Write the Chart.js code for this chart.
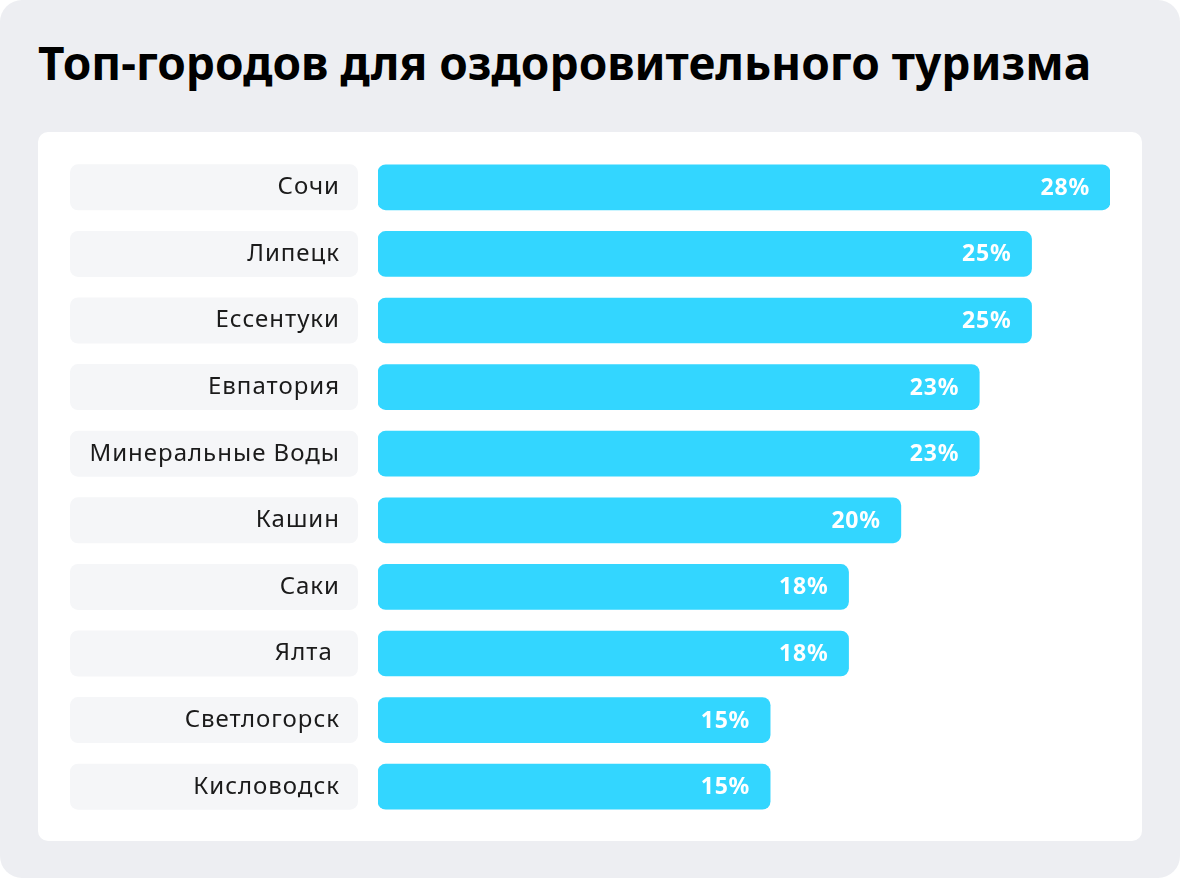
<!DOCTYPE html>
<html lang="ru">
<head>
<meta charset="utf-8">
<script src="https://cdn.jsdelivr.net/npm/chart.js@4"></script>
<style>
  html, body { margin: 0; padding: 0; background: #ffffff; }
  #wrap { position: relative; width: 1180px; height: 878px; background: #edeef2; border-radius: 22px; overflow: hidden; font-family: "Noto Sans", "Open Sans", sans-serif; }
  #title { position: absolute; left: 38px; top: 35px; margin: 0; font-size: 46px; font-weight: 700; color: #000; letter-spacing: 0px; white-space: nowrap; line-height: 1.2; }
  #card { position: absolute; left: 38px; top: 132px; width: 1104px; height: 709px; background: #fff; border-radius: 10px; }
  #cv { position: absolute; left: 0; top: 0; }
</style>
</head>
<body>
<div id="wrap">
  <h1 id="title">Топ-городов для оздоровительного туризма</h1>
  <div id="card"></div>
  <canvas id="cv" width="1180" height="878"></canvas>
</div>
<script>
const cities = ["Сочи", "Липецк", "Ессентуки", "Евпатория", "Минеральные Воды", "Кашин", "Саки", "Ялта ", "Светлогорск", "Кисловодск"];
const shares = [28, 25, 25, 23, 23, 20, 18, 18, 15, 15];

const labelBoxes = {
  id: 'labelBoxes',
  beforeDraw(chart) {
    const ctx = chart.ctx, y = chart.scales.y;
    ctx.save();
    ctx.fillStyle = '#f5f6f8';
    cities.forEach((c, i) => {
      const py = y.getPixelForValue(i);
      ctx.beginPath();
      ctx.roundRect(70, py - 23, 288, 46, 8);
      ctx.fill();
    });
    ctx.restore();
    ctx.letterSpacing = '1px';
  },
  afterDraw(chart) {
    chart.ctx.letterSpacing = '0px';
  }
};

const valueLabels = {
  id: 'valueLabels',
  afterDatasetsDraw(chart) {
    const ctx = chart.ctx;
    const meta = chart.getDatasetMeta(0);
    ctx.save();
    ctx.fillStyle = '#ffffff';
    ctx.font = '700 23px "Noto Sans", "Open Sans", sans-serif';
    ctx.letterSpacing = '0.8px';
    ctx.textAlign = 'right';
    ctx.textBaseline = 'middle';
    meta.data.forEach((bar, i) => {
      ctx.fillText(shares[i] + '%', bar.x - 20, bar.y + 1);
    });
    ctx.restore();
  }
};

new Chart(document.getElementById('cv'), {
  type: 'bar',
  data: {
    labels: cities,
    datasets: [{
      data: shares,
      backgroundColor: '#33d6ff',
      borderRadius: 8,
      borderSkipped: false,
      barThickness: 45
    }]
  },
  options: {
    indexAxis: 'y',
    responsive: false,
    animation: false,
    layout: { padding: { left: 0, right: 70, top: 154, bottom: 58 } },
    plugins: { legend: { display: false }, tooltip: { enabled: false }, title: { display: false } },
    scales: {
      x: { display: false, min: 0, max: 28 },
      y: {
        grid: { display: false },
        border: { display: false },
        ticks: {
          color: '#1b1b1b',
          padding: 30,
          font: { family: '"Noto Sans", "Open Sans", sans-serif', size: 24 }
        },
        afterFit(scale) { scale.width = 378; }
      }
    }
  },
  plugins: [labelBoxes, valueLabels]
});
</script>
</body>
</html>
